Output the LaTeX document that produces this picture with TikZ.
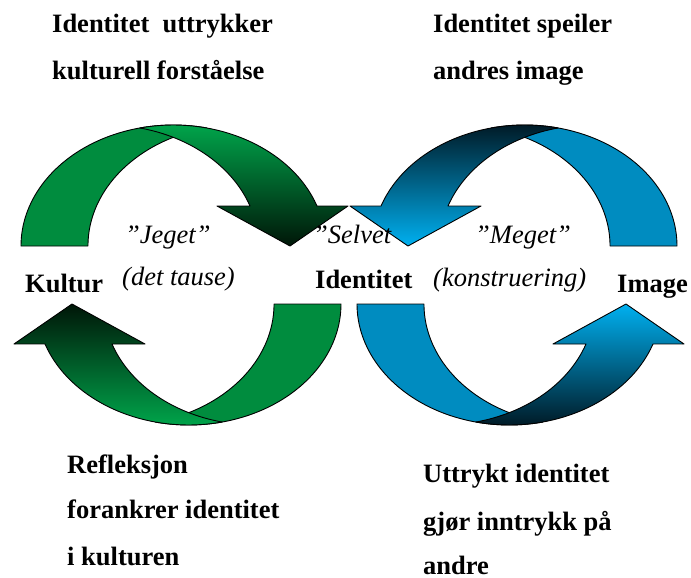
\documentclass[tikz,border=0pt]{standalone}
\usepackage{fontspec}
\setmainfont{Liberation Serif}
\usetikzlibrary{positioning}
\definecolor{backgreen}{RGB}{0,140,62}
\definecolor{lightgreen}{RGB}{0,176,80}
\definecolor{darkgreen}{RGB}{0,22,8}
\definecolor{backblue}{RGB}{0,140,192}
\definecolor{lightblue}{RGB}{0,176,240}
\definecolor{darkblue}{RGB}{0,14,22}

% one curved arrow: back band, then the band with the head
\newcommand{\loopband}[3]{%
  \draw[band, fill=#1] (21,246)
    arc[start angle=180, end angle=282.7, x radius=152.3, y radius=121]
    arc[start angle=257.3, end angle=180, x radius=152.3, y radius=121] -- cycle;
  \draw[band, top color=#2, bottom color=#3] (139.8,128)
    arc[start angle=257.3, end angle=340.7, x radius=152.3, y radius=121]
    -- (348,206) -- (290,246) -- (217,206) -- (250,206)
    arc[start angle=340.7, end angle=282.7, x radius=152.3, y radius=121] -- cycle;
}

\begin{document}
\begin{tikzpicture}[x=1pt, y=-1pt,
    band/.style={draw=black, line width=0.9pt, line join=round},
    bold/.style={font=\fontsize{26.5}{30}\selectfont\bfseries, anchor=base west, inner sep=0pt},
    soft/.style={font=\fontsize{26.5}{30}\selectfont\itshape, anchor=base west, inner sep=0pt}
  ]
  \useasboundingbox (0,0) rectangle (691,578);

  % Arrows
  \loopband{backgreen}{lightgreen}{darkgreen}
  \begin{scope}[shift={(698,0)}, xscale=-1]
    \loopband{backblue}{darkblue}{lightblue}
  \end{scope}
  \begin{scope}[shift={(362,550)}, xscale=-1, yscale=-1]
    \loopband{backgreen}{darkgreen}{lightgreen}
  \end{scope}
  \begin{scope}[shift={(336,550)}, yscale=-1]
    \loopband{backblue}{lightblue}{darkblue}
  \end{scope}

  % Middle row
  \node[bold] (kultur) at (25,292) {Kultur};
  \node[bold] (identitet) at (315,288) {Identitet};
  \node[bold] (image) at (617,292) {Image};
  \node[soft] (jeget) at (125,243) {”Jeget”};
  \node[soft] (tause) at (122,285) {(det tause)};
  \node[soft] (selvet) at (313,243) {”Selvet};
  \node[soft] (meget) at (475,243) {”Meget”};
  \node[soft] (konstr) at (433,286) {(konstruering)};

  % Corner texts
  \node[bold] (uttrykker1) at (52,33) {Identitet~~uttrykker};
  \node[bold] (uttrykker2) at (52,80) {kulturell forståelse};
  \node[bold] (speiler1) at (433,33) {Identitet speiler};
  \node[bold] (speiler2) at (433,80) {andres image};
  \node[bold] (refleksjon1) at (67,473) {Refleksjon};
  \node[bold] (refleksjon2) at (67,518) {forankrer identitet};
  \node[bold] (refleksjon3) at (67,565) {i kulturen};
  \node[bold] (inntrykk1) at (423,482) {Uttrykt identitet};
  \node[bold] (inntrykk2) at (423,530) {gjør inntrykk på};
  \node[bold] (inntrykk3) at (423,574) {andre};
\end{tikzpicture}
\end{document}
